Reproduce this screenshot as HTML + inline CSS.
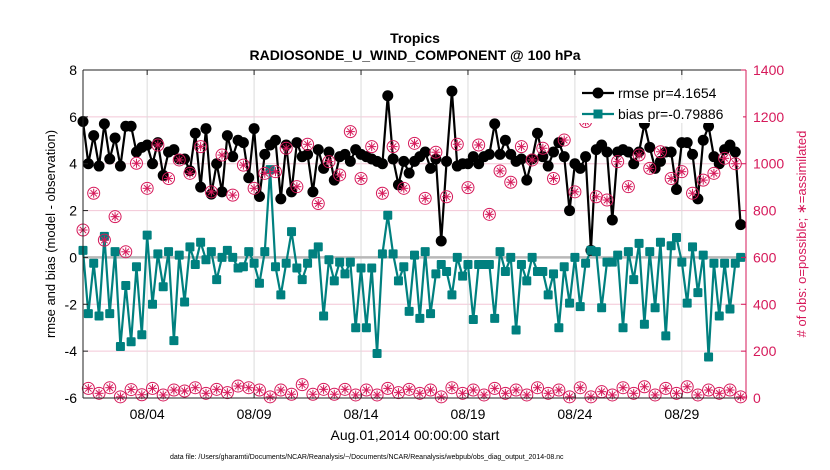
<!DOCTYPE html>
<html><head><meta charset="utf-8"><style>
body{margin:0;background:#fff;}
svg{display:block;font-family:"Liberation Sans",sans-serif;}
</style></head><body>
<svg id="chart" width="830" height="470" viewBox="0 0 830 470">
<rect width="830" height="470" fill="#fff"/>
<g id="grid"></g>
<g id="series"></g>
<g id="axes"></g>
<text x="415" y="43" text-anchor="middle" font-size="14" font-weight="bold">Tropics</text>
<text x="415" y="60" text-anchor="middle" font-size="14" font-weight="bold">RADIOSONDE_U_WIND_COMPONENT @ 100 hPa</text>
<text transform="translate(55,234) rotate(-90)" text-anchor="middle" font-size="13">rmse and bias (model - observation)</text>
<text transform="translate(806,234) rotate(-90)" text-anchor="middle" font-size="13" fill="#d6195a"># of obs: o=possible; ∗=assimilated</text>
<text x="415" y="440" text-anchor="middle" font-size="14">Aug.01,2014 00:00:00 start</text>
<text x="170" y="459" font-size="7">data file: /Users/gharamti/Documents/NCAR/Reanalysis/~/Documents/NCAR/Reanalysis/webpub/obs_diag_output_2014-08.nc</text>
<g id="legend"></g>
</svg>
<script>
const rmse=[5.8,4.0,5.2,3.9,5.7,4.2,5.1,3.9,5.6,5.6,4.5,4.7,4.8,4.0,4.9,3.5,4.5,4.6,4.2,4.2,3.7,5.3,3.0,5.5,2.7,4.0,2.8,5.2,4.3,5.0,4.9,3.4,5.5,2.6,4.4,4.8,5.0,2.5,4.8,2.8,4.9,4.3,4.4,2.8,4.6,3.8,4.5,3.3,4.3,4.4,4.1,4.6,4.4,4.3,4.2,4.1,4.0,6.9,4.2,3.1,4.1,3.6,4.1,4.3,4.5,3.8,4.2,0.7,4.1,7.1,3.9,4.0,4.0,4.3,4.0,4.3,4.4,5.7,4.4,5.0,4.4,4.1,4.2,3.3,4.2,5.3,4.3,3.9,4.5,4.9,4.3,2.0,4.0,3.8,4.3,0.3,4.6,4.8,4.5,1.6,4.5,4.6,4.5,4.0,4.5,5.7,4.7,3.8,4.1,4.5,4.5,2.9,4.9,4.9,4.4,2.5,5.0,5.6,4.3,4.0,4.6,4.8,4.5,1.4];
const bias=[0.3,-2.4,-0.25,-2.5,0.9,-2.4,0.25,-3.8,-1.2,-3.6,-0.4,-3.3,0.95,-2.0,0.15,-1.25,0.25,-3.55,0.1,-1.9,0.45,-0.3,0.65,-0.1,0.25,-0.95,0,0.3,0,-0.45,-0.4,0.25,-0.25,-1.1,0.25,3.75,-0.4,-1.6,-0.25,1.1,-0.45,-0.95,-0.25,0.15,0.45,-2.5,-0.1,-1.0,-0.2,-0.7,-0.2,-3.0,-0.45,-3.0,-0.45,-4.1,0.15,1.8,0.15,-1.0,-0.4,-2.3,0.1,-2.6,0.25,-2.4,-0.7,-0.3,-0.6,-1.6,0,-0.8,-0.3,-2.65,-0.3,-0.3,-0.3,-2.6,0.25,-0.6,0,-3.1,-0.3,-1.0,0,-0.6,-0.6,-1.6,-0.7,-3.0,-0.4,-1.95,0,-2.1,-0.25,0.3,0.25,-2.15,-0.2,-0.2,0.1,-3.0,0.25,-0.95,0.6,-2.85,0.25,-2.15,0.65,-3.35,0.5,0.85,-0.2,-1.95,0.45,-1.5,0.1,-4.25,-0.25,-2.5,-0.25,-2.2,-0.25,0];
const obsUpper=[717,874,674,774,624,1002,895,1080,937,1016,959,1073,880,1037,866,994,895,959,966,1066,902,1083,830,1009,952,1137,937,1073,874,1073,895,1087,852,1049,859,1083,898,1080,784,969,921,1073,1016,1066,937,1101,880,1180,859,845,1009,902,1037,980,1051,937,966,874,930,959,1023,1000];
const obsLower=[41,20,44,5,36,14,41,13,34,30,44,20,37,23,51,44,34,5,34,16,57,16,37,16,37,13,34,13,41,23,37,20,34,5,44,20,34,13,41,20,34,13,44,20,34,5,44,5,27,13,44,20,48,13,41,20,48,13,34,20,34,5];
const xTicks=[3,8,13,18,23,28];
const xTickLabels=['08/04','08/09','08/14','08/19','08/24','08/29'];
const yLeftTicks=[-6,-4,-2,0,2,4,6,8];
const yRightTicks=[0,200,400,600,800,1000,1200,1400];

const L=83,R=746,T=70,B=398,MAG='#d6195a',TEAL='#00807f';
const NS='http://www.w3.org/2000/svg';
const xs=d=>L+(d/31)*(R-L);
const xi=i=>xs(i*0.25);
const yl=v=>B-(v+6)/14*(B-T);
const yr=v=>B-v/1400*(B-T);
function mk(tag,attrs,parent){const e=document.createElementNS(NS,tag);for(const k in attrs)e.setAttribute(k,attrs[k]);parent.appendChild(e);return e;}
const grid=document.getElementById('grid'),ser=document.getElementById('series'),ax=document.getElementById('axes'),leg=document.getElementById('legend');

yLeftTicks.forEach(v=>{if(v>-6&&v<8){const l=mk('line',{x1:L,x2:R,y1:yl(v),y2:yl(v),stroke:'#f3c6d6','stroke-width':1},grid);

}});
xTicks.forEach(d=>{const l=mk('line',{x1:xs(d),x2:xs(d),y1:T,y2:B,stroke:'#dcdcdc','stroke-width':1},grid);

});
const z=mk('line',{x1:L,x2:R,y1:yl(0),y2:yl(0),stroke:'#b8b8b8','stroke-width':2.5},grid);



function poly(vals,color,name){const p=mk('polyline',{points:vals.map((v,i)=>xi(i)+','+yl(v)).join(' '),fill:'none',stroke:color,'stroke-width':2.2},ser);

}
poly(rmse,'#000','rmse-line');
poly(bias,TEAL,'bias-line');
rmse.forEach((v,i)=>{const c=mk('circle',{cx:xi(i),cy:yl(v),r:5.5,fill:'#000'},ser);

});
bias.forEach((v,i)=>{const r=mk('rect',{x:xi(i)-4.5,y:yl(v)-4.5,width:9,height:9,rx:1,fill:TEAL},ser);

});
function obsMark(cx,cy,parent){const g=mk('g',{stroke:MAG,'stroke-width':1,fill:'none'},parent);
mk('circle',{cx:cx,cy:cy,r:6},g);
for(let a=0;a<4;a++){const t=a*Math.PI/4;mk('line',{x1:cx-4.5*Math.cos(t),y1:cy-4.5*Math.sin(t),x2:cx+4.5*Math.cos(t),y2:cy+4.5*Math.sin(t)},g);}
return g;}
obsUpper.forEach((v,i)=>{const g=obsMark(xs(i*0.5),yr(v),ser);

});
obsLower.forEach((v,i)=>{const g=obsMark(xs(0.25+i*0.5),yr(v),ser);

});

mk('line',{x1:L,x2:R,y1:T,y2:T,stroke:'#222'},ax);
mk('line',{x1:L,x2:R,y1:B,y2:B,stroke:'#222'},ax);
mk('line',{x1:L,x2:L,y1:T,y2:B,stroke:'#222'},ax);
mk('line',{x1:R,x2:R,y1:T,y2:B,stroke:MAG},ax);
yLeftTicks.forEach(v=>{mk('line',{x1:L,x2:L+5,y1:yl(v),y2:yl(v),stroke:'#222'},ax);
const t=mk('text',{x:L-6,y:yl(v)+5,'text-anchor':'end','font-size':14},ax);t.textContent=v;

});
yRightTicks.forEach(v=>{mk('line',{x1:R-5,x2:R,y1:yr(v),y2:yr(v),stroke:MAG},ax);
const t=mk('text',{x:R+7,y:yr(v)+5,'font-size':14,fill:MAG},ax);t.textContent=v;

});
xTicks.forEach((d,i)=>{mk('line',{x1:xs(d),x2:xs(d),y1:B,y2:B-5,stroke:'#222'},ax);mk('line',{x1:xs(d),x2:xs(d),y1:T,y2:T+5,stroke:'#222'},ax);
const t=mk('text',{x:xs(d),y:419,'text-anchor':'middle','font-size':14},ax);t.textContent=xTickLabels[i];

});

mk('rect',{x:577,y:80,width:166,height:43,fill:'#fff'},leg);
mk('line',{x1:582,x2:614,y1:93,y2:93,stroke:'#000','stroke-width':2.2},leg);
mk('circle',{cx:598,cy:93,r:5.5,fill:'#000'},leg);
const t1=mk('text',{x:618,y:98,'font-size':14},leg);t1.textContent='rmse pr=4.1654';


mk('line',{x1:582,x2:614,y1:114,y2:114,stroke:TEAL,'stroke-width':2.2},leg);
mk('rect',{x:593.5,y:109.5,width:9,height:9,fill:TEAL},leg);
const t2=mk('text',{x:618,y:119,'font-size':14},leg);t2.textContent='bias pr=-0.79886';


</script>
</body></html>
